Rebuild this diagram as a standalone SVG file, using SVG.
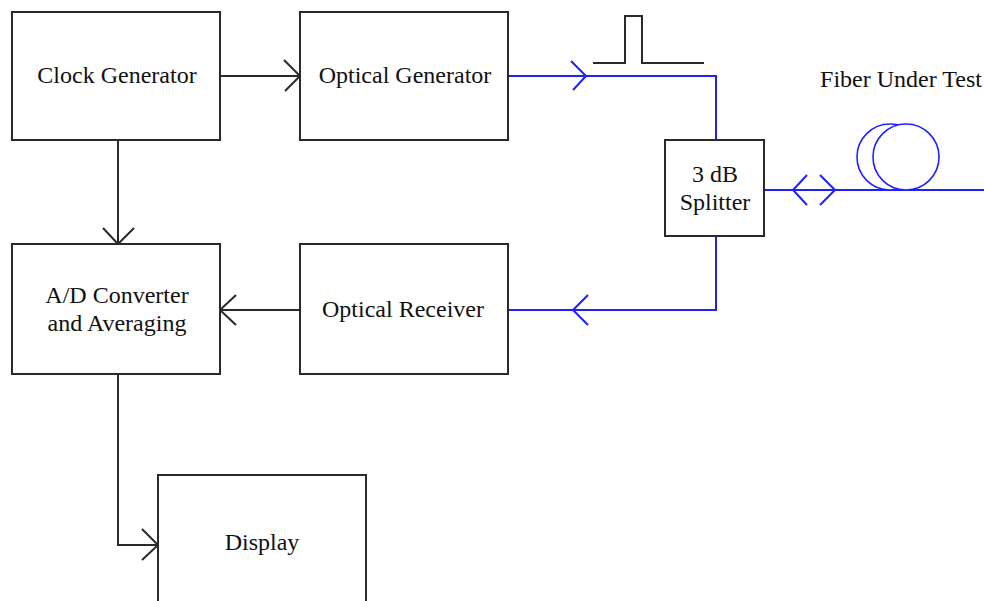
<svg xmlns="http://www.w3.org/2000/svg" width="984" height="601" viewBox="0 0 984 601">
<style>
.box{fill:#fff;stroke:#2a2a2a;stroke-width:2}
.t{font-family:"Liberation Serif","Times New Roman",serif;font-size:24px;fill:#111;text-anchor:middle}
.k{fill:none;stroke:#2a2a2a;stroke-width:2}
.b{fill:none;stroke:#2020ff;stroke-width:2}
.bt{fill:#fff;stroke:#2020ff;stroke-width:1.6}
</style>
<rect width="984" height="601" fill="#fff"/>
<g id="connectors">
<path class="k" d="M220 76H300M284 60L300 76L285 91"/>
<path class="k" d="M118 140V244M103 228L118 244L134 228"/>
<path class="k" d="M300 310H220M236 295L220 310L236 325"/>
<path class="k" d="M118 374V545H158M142 529L158 545L142 560"/>
<path class="b" d="M508 76H716V140M571 61L586 76L573 90"/>
<path class="b" d="M716 236V310H508M588 295L573 310L588 325"/>
<path class="b" d="M764 190H984M807 175L793 190L807 205M820 175L835 190L820 205"/>
<path class="k" d="M593 63H625V16H642V63H704"/>
</g>
<g id="fiber">
<circle class="bt" cx="890" cy="157" r="33"/>
<circle class="bt" cx="906" cy="157" r="33"/>
<text class="t" x="901" y="87">Fiber Under Test</text>
</g>
<g id="clock"><rect class="box" x="12" y="12" width="208" height="128"/><text class="t" x="117" y="83">Clock Generator</text></g>
<g id="optgen"><rect class="box" x="300" y="12" width="208" height="128"/><text class="t" x="405" y="83">Optical Generator</text></g>
<g id="adc"><rect class="box" x="12" y="244" width="208" height="130"/><text class="t" x="117" y="303">A/D Converter</text><text class="t" x="117" y="331">and Averaging</text></g>
<g id="optrx"><rect class="box" x="300" y="244" width="208" height="130"/><text class="t" x="403" y="317">Optical Receiver</text></g>
<g id="splitter"><rect class="box" x="665" y="140" width="99" height="96"/><text class="t" x="715" y="182">3 dB</text><text class="t" x="715" y="210">Splitter</text></g>
<g id="display"><rect class="box" x="158" y="475" width="208" height="140"/><text class="t" x="262" y="550">Display</text></g>
</svg>
